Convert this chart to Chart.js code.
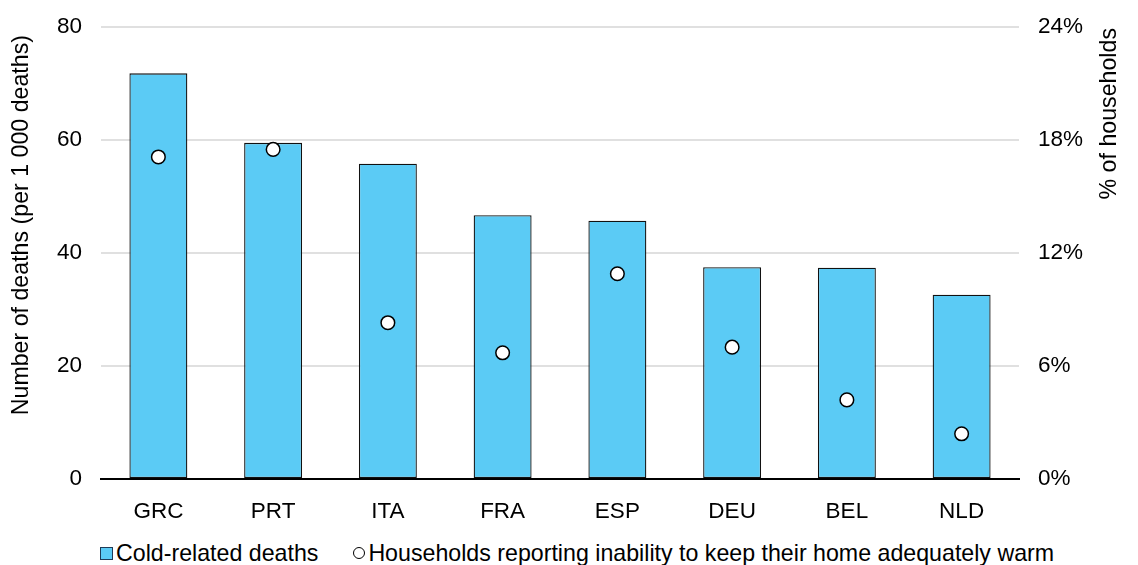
<!DOCTYPE html>
<html>
<head>
<meta charset="utf-8">
<script src="https://cdn.jsdelivr.net/npm/chart.js@4"></script>
<style>
    body { margin: 0; background: #fff; font-family: "Liberation Sans", Arial, sans-serif; }
    #wrap { position: relative; width: 1138px; height: 565px; }
    #chartBox { position: absolute; left: 0; top: 0; width: 1138px; height: 530px; }
    #legend { position: absolute; left: 100px; top: 540px; display: flex; align-items: center; font-size: 23.2px; line-height: 26px; color: #000; }
    .item { display: flex; align-items: center; }
    .box { width: 11px; height: 11px; background: #5bcbf5; border: 1px solid #1f3b57; margin-right: 3px; }
    .dot { width: 10px; height: 10px; border-radius: 50%; background: #fff; border: 1.3px solid #000; margin-right: 3px; margin-left: 35px; }
</style>
</head>
<body>
<div id="wrap">
    <div id="chartBox"><canvas id="myChart"></canvas></div>
    <div id="legend">
        <div class="item"><span class="box"></span>Cold-related deaths</div>
        <div class="item"><span class="dot"></span>Households reporting inability to keep their home adequately warm</div>
    </div>
</div>
<script>
const categories = ["GRC", "PRT", "ITA", "FRA", "ESP", "DEU", "BEL", "NLD"]
const coldDeaths = [71.8, 59.5, 55.8, 46.7, 45.7, 37.5, 37.4, 32.6]
const householdsShare = [17.1, 17.5, 8.3, 6.7, 10.9, 7.0, 4.2, 2.4]
const leftTicks = [0, 20, 40, 60, 80]
const rightTicks = [0, 6, 12, 18, 24]

const fontName = '"Liberation Sans", Arial, sans-serif'

// axis titles drawn by hand so the right one reads bottom-to-top like the original
const axisTitles = {
    id: 'axisTitles',
    afterDraw(chart) {
        const ctx = chart.ctx
        const area = chart.chartArea
        ctx.save()
        ctx.font = '23.2px ' + fontName
        ctx.fillStyle = '#000'
        ctx.textAlign = 'right'
        ctx.textBaseline = 'middle'

        ctx.save()
        ctx.translate(22, area.top + 8)
        ctx.rotate(-Math.PI / 2)
        ctx.fillText('Number of deaths (per 1 000 deaths)', 0, 0)
        ctx.restore()

        ctx.save()
        ctx.translate(1110, area.top + 1)
        ctx.rotate(-Math.PI / 2)
        ctx.fillText('% of households', 0, 0)
        ctx.restore()

        ctx.restore()
    }
}

// fixed widths, and no extra top/bottom padding from the tick labels
function fitSide(width) {
    return function (scale) {
        scale.width = width
        scale.paddingTop = 0
        scale.paddingBottom = 0
    }
}

const config = {
    data: {
        labels: categories,
        datasets: [
            {
                type: 'line',
                label: 'Households reporting inability to keep their home adequately warm',
                data: householdsShare,
                yAxisID: 'y1',
                showLine: false,
                pointRadius: 6.8,
                pointBackgroundColor: '#fff',
                pointBorderColor: '#000',
                pointBorderWidth: 1.5,
                order: 0
            },
            {
                type: 'bar',
                label: 'Cold-related deaths',
                data: coldDeaths,
                yAxisID: 'y',
                backgroundColor: '#5bcbf5',
                borderColor: '#111',
                borderWidth: 1.3,
                borderSkipped: false,
                categoryPercentage: 1,
                barPercentage: 0.505,
                order: 1
            }
        ]
    },
    options: {
        responsive: true,
        maintainAspectRatio: false,
        animation: false,
        layout: { autoPadding: false, padding: { top: 27, left: 0, right: 0, bottom: 0 } },
        plugins: {
            legend: { display: false },
            tooltip: { enabled: false }
        },
        scales: {
            x: {
                grid: { display: false, drawTicks: false },
                border: { display: true, color: '#000', width: 2 },
                ticks: { color: '#000', font: { family: fontName, size: 22.5 }, padding: 19 },
                afterFit: function (scale) { scale.height = 51 }
            },
            y: {
                position: 'left',
                min: 0,
                max: 80,
                afterBuildTicks: function (scale) { scale.ticks = leftTicks.map(v => ({ value: v })) },
                grid: {
                    drawTicks: false,
                    lineWidth: 2,
                    color: ctx => ctx.tick && ctx.tick.value === 0 ? 'rgba(0,0,0,0)' : '#e0e0e0'
                },
                border: { display: false },
                ticks: { color: '#000', font: { family: fontName, size: 22.5 }, padding: 19 },
                afterFit: fitSide(101)
            },
            y1: {
                position: 'right',
                min: 0,
                max: 24,
                afterBuildTicks: function (scale) { scale.ticks = rightTicks.map(v => ({ value: v })) },
                grid: { display: false, drawTicks: false },
                border: { display: false },
                ticks: {
                    color: '#000',
                    font: { family: fontName, size: 22.5 },
                    padding: 19,
                    callback: v => v + '%'
                },
                afterFit: fitSide(119)
            }
        }
    },
    plugins: [axisTitles]
}

new Chart(document.getElementById('myChart'), config)
</script>
</body>
</html>
